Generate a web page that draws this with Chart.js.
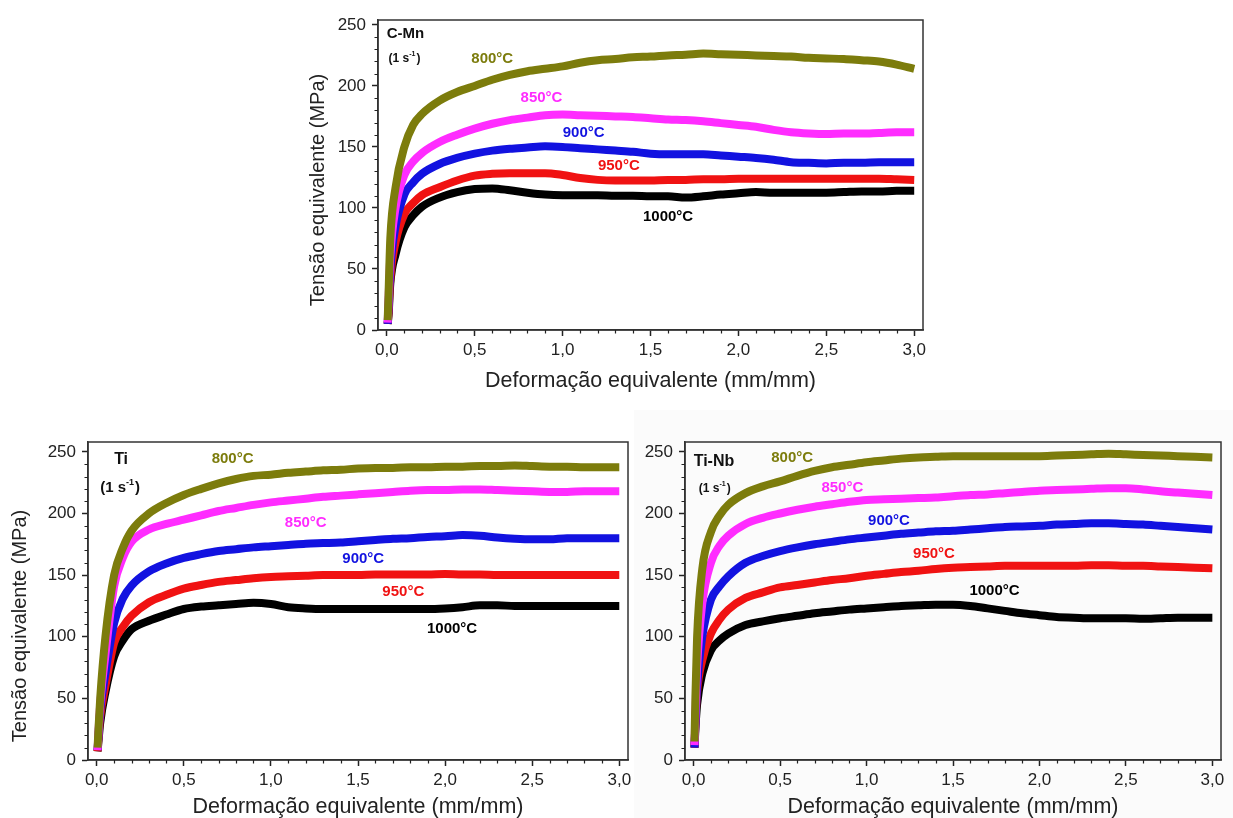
<!DOCTYPE html>
<html><head><meta charset="utf-8">
<script src="https://cdn.jsdelivr.net/npm/chart.js@4/dist/chart.umd.min.js"></script>
<style>
html,body{margin:0;padding:0;background:#fff;width:1233px;height:818px;overflow:hidden}
.box{position:absolute}
</style></head>
<body>
<div class="box" style="left:634px;top:410px;width:599px;height:408px;background:#fbfbfb"></div>
<div class="box" style="left:300px;top:0;width:640px;height:400px"><canvas id="c1"></canvas></div>
<div class="box" style="left:0;top:420px;width:640px;height:398px"><canvas id="c2"></canvas></div>
<div class="box" style="left:634px;top:420px;width:599px;height:398px"><canvas id="c3"></canvas></div>
<script>
// ---------- DATA ----------
const strain = [0.005,0.01,0.02,0.05,0.1,0.15,0.2,0.3,0.4,0.5,0.6,0.7,0.8,0.9,1.0,1.1,1.2,1.3,1.4,1.5,1.6,1.7,1.8,1.9,2.0,2.1,2.2,2.3,2.4,2.5,2.6,2.7,2.8,2.9,3.0];
const temperatures = ['800°C','850°C','900°C','950°C','1000°C'];
const xTickVals = [0,0.5,1.0,1.5,2.0,2.5,3.0];
const xTickLabels = ['0,0','0,5','1,0','1,5','2,0','2,5','3,0'];
const yTickVals = [0,50,100,150,200,250];
const yTickLabels = ['0','50','100','150','200','250'];
const xTitle = 'Deformação equivalente (mm/mm)';
const yTitle = 'Tensão equivalente (MPa)';

// C-Mn
const cmn800 = [8,30,75,117,150,168,177,188,195,200,205,209,212,214,216,219,221,222,223.5,224,225,225.5,226.5,226,225.5,225,224.5,224,223,222.5,222,221,220,217.5,214];
const cmn850 = [6,25,60,100,127,138,145,154,160,165,169,172,174,176,176.5,176,175.5,175,174.5,173.5,172.5,172,171,169.5,168,166.5,164,162,161,160.5,161,161,161.5,162,162];
const cmn900 = [5,20,50,85,111,121,128,136,141,144.5,147,148.5,149.5,150.5,150,149,148,147,146,144.5,144,144,144,143,142,141,139.5,137.5,137,136.5,137,137,137.5,137.5,137.5];
const cmn950 = [5,15,42,72,95,104,110.5,117,122.5,126.5,128,128.5,128.5,128.5,127,124.5,123,122.5,122.5,122.5,123,123,123.5,123.5,124,124,124,124,124,124,124,124,124,123.5,123];
const cmn1000 = [5,12,38,62,84,94,101,108.5,113,115.5,116,114.5,112.5,111,110.5,110.5,110.5,110,110,109.5,109.5,108.5,109.5,111,112,113,112.5,112.5,112.5,112.5,113,113.5,113.5,114,114];

// Ti
const ti800 = [10,25,50,100,150,172,186,200,208.5,215,220,224.5,228,230.5,231.5,233,234,235,235.5,236.5,237,237,237.5,237.5,238,238,238.5,238.5,239,238.5,238,238,237.5,237.5,237.5];
const ti850 = [8,22,45,85,141,164,177,187,191.5,195,198.5,202,204.5,207,209,210.5,212,213.5,214.5,215.5,216.5,217.5,218.5,219,219,219.5,219.5,219,218.5,218,217.5,217.5,218,218,218];
const ti900 = [8,20,40,70,111,131,141.5,153,159.5,164,167,169.5,171,172.5,173.5,174.5,175.5,176,176.5,177.5,178.5,179.5,180,181,181.5,182.5,182,180.5,179.5,179,179,180,180,180,180];
const ti950 = [7,18,35,60,95,108,117,128,134,139,142,144.5,146,147.5,148.5,149,149.5,150,150,150,150.5,150.5,150.5,150.5,151,150.5,150.5,150,150,150,150,150,150,150,150];
const ti1000 = [7,15,30,55,84,97,106,113,118,122.5,124.5,125.5,126.5,127.5,126.5,124,123,122.5,122.5,122.5,122.5,122.5,122.5,122.5,123,124,125.5,125.5,125,125,125,125,125,125,125];

// Ti-Nb
const tinb800 = [15,50,100,155,185,198.5,207,216.5,222,226,230.5,234.5,237.5,239.5,241.5,243,244.5,245.5,246,246.5,246.5,246.5,246.5,246.5,246.5,247,247.5,248,248.5,248,247.5,247,246.5,246,245.5];
const tinb850 = [12,35,75,127,160,174,182,191.5,196.5,200,203,205.5,207.5,209.5,211,211.5,212,212.5,213,214,215,215.5,216.5,217.5,218.5,219,219.5,220,220.5,220.5,219.5,218,217,216,215];
const tinb900 = [10,30,60,100,130,141,149,160,165.5,169.5,172.5,175,177,179,180.5,182,183.5,184.5,185.5,186,187,188,189,189.5,190,191,191.5,192,192,191.5,191,190,189,188,187];
const tinb950 = [10,30,55,81,102.5,114,122,131.5,136,140,142,144,146,147.5,149.5,151,152.5,153.5,155,156,156.5,157,157.5,157.5,157.5,157.5,157.5,158,158,157.5,157.5,157,156.5,156,155.5];
const tinb1000 = [10,25,45,70,89,97,102.5,109.5,112.5,115,117,119,120.5,122,123,124,125,125.5,126,126,125,123,121,119,117.5,116,115.5,115,115,115,114.5,115,115.5,115.5,115.5];

// ---------- STYLE ----------
const colors = ['#7c7c0c','#ff2cff','#1212e0','#f01212','#000000'];
const FONT = '"Liberation Sans", Arial, Helvetica, sans-serif';

function mkDatasets(series){
  return series.map((ys,i)=>({
    label: temperatures[i],
    data: strain.map((x,j)=>({x:x,y:ys[j]})),
    borderColor: colors[i],
    backgroundColor: colors[i],
    borderWidth: 8,
    pointRadius: 0,
    cubicInterpolationMode: 'monotone',
    fill: false
  }));
}

const framePlugin = {
  id:'frame',
  afterDraw(chart, args, opts){
    const {ctx, chartArea:a, scales:{x, y}} = chart;
    ctx.save();
    ctx.strokeStyle = '#333';
    ctx.lineWidth = 1.5;
    ctx.strokeRect(a.left, a.top, a.right-a.left, a.bottom-a.top);
    // minor ticks
    ctx.lineWidth = 1.2;
    ctx.strokeStyle = '#222';
    ctx.beginPath();
    for (let v = 10; v < y.max; v += 10){
      if (v % 50 === 0) continue;
      const py = Math.round(y.getPixelForValue(v)) + 0.5;
      ctx.moveTo(a.left, py); ctx.lineTo(a.left - 3.5, py);
    }
    for (let k = 1; k <= 30; k++){
      if (k % 5 === 0) continue;
      const px = Math.round(x.getPixelForValue(k/10)) + 0.5;
      ctx.moveTo(px, a.bottom); ctx.lineTo(px, a.bottom + 3.5);
    }
    ctx.stroke();
    // y title
    if (opts.show){
      ctx.translate(opts.x, (a.top + a.bottom)/2 + opts.dy);
      ctx.rotate(-Math.PI/2);
      ctx.fillStyle = '#222';
      ctx.font = '20px ' + FONT;
      ctx.textAlign = 'center';
      ctx.textBaseline = 'middle';
      ctx.fillText(yTitle, 0, 0);
    }
    ctx.restore();
  }
};

const labelPlugin = {
  id:'lbls',
  afterDatasetsDraw(chart, args, opts){
    const {ctx, scales:{x, y}} = chart;
    ctx.save();
    ctx.textBaseline = 'middle';
    ctx.textAlign = 'center';
    ctx.font = 'bold 15px ' + FONT;
    opts.temps.forEach((p,i)=>{
      ctx.fillStyle = colors[i];
      ctx.fillText(temperatures[i], x.getPixelForValue(p[0]), y.getPixelForValue(p[1]));
    });
    ctx.fillStyle = '#111';
    ctx.font = 'bold ' + opts.nameSize + 'px ' + FONT;
    ctx.textAlign = 'left';
    const nx = x.getPixelForValue(opts.name[0]), ny = y.getPixelForValue(opts.name[1]);
    ctx.fillText(opts.alloy, nx, ny);
    const rx = x.getPixelForValue(opts.rate[0]), ry = y.getPixelForValue(opts.rate[1]);
    const fs = opts.rateSize;
    ctx.font = 'bold ' + fs + 'px ' + FONT;
    let cx = rx;
    ctx.fillText('(1 s', cx, ry); cx += ctx.measureText('(1 s').width;
    ctx.font = 'bold ' + Math.round(fs*0.6) + 'px ' + FONT;
    ctx.fillText('-1', cx, ry - fs*0.4); cx += ctx.measureText('-1').width + 1;
    ctx.font = 'bold ' + fs + 'px ' + FONT;
    ctx.fillText(')', cx, ry);
    ctx.restore();
  }
};

function mkChart(id, series, cfg){
  return new Chart(document.getElementById(id), {
    type:'line',
    data:{datasets: mkDatasets(series)},
    plugins:[framePlugin, labelPlugin],
    options:{
      responsive:true, maintainAspectRatio:false, animation:false,
      layout:{padding:{left:0, right:cfg.padR, top:cfg.padT, bottom:0}},
      plugins:{legend:{display:false}, tooltip:{enabled:false},
        frame:{show:cfg.ytitle, x:cfg.ytx, dy:cfg.ytdy},
        lbls:{temps:cfg.temps, alloy:cfg.alloy, name:cfg.name, rate:cfg.rate, nameSize:cfg.nameSize, rateSize:cfg.rateSize}},
      scales:{
        x:{type:'linear', min:-0.05, max:3.05,
          afterBuildTicks(s){ s.ticks = xTickVals.map(v=>({value:v})); },
          afterFit(s){ s.height = cfg.xh; },
          ticks:{callback:(v,i)=>xTickLabels[i], color:'#222', font:{family:FONT, size:17}, padding:4, maxRotation:0, autoSkip:false},
          grid:{display:true, drawOnChartArea:false, drawTicks:true, tickLength:6, tickColor:'#222', tickWidth:1.5},
          border:{display:true, color:'#333', width:1.5},
          title:{display:true, text:xTitle, color:'#222', font:{family:FONT, size:21.5, lineHeight:1}, padding:{top:0,bottom:cfg.xtPad}}
        },
        y:{type:'linear', min:0, max:cfg.ymax,
          afterBuildTicks(s){ s.ticks = yTickVals.map(v=>({value:v})); },
          afterFit(s){ s.width = cfg.yw; },
          ticks:{callback:(v,i)=>yTickLabels[i], color:'#222', font:{family:FONT, size:17}, padding:6, autoSkip:false},
          grid:{display:true, drawOnChartArea:false, drawTicks:true, tickLength:6, tickColor:'#222', tickWidth:1.5},
          border:{display:true, color:'#333', width:1.5},
          title:{display:false}
        }
      }
    }
  });
}

mkChart('c1', [cmn800,cmn850,cmn900,cmn950,cmn1000], {
  padR:17, padT:20, xh:70, yw:78, ymax:254, xtPad:8, ytitle:true, ytx:18, ytdy:15,
  temps:[[0.6,222],[0.88,190],[1.12,161.5],[1.32,134.5],[1.6,93]],
  alloy:'C-Mn', name:[0.0,243], rate:[0.01,222], nameSize:15, rateSize:12
});
mkChart('c2', [ti800,ti850,ti900,ti950,ti1000], {
  padR:12, padT:22, xh:58, yw:88, ymax:258, xtPad:0, ytitle:true, ytx:20, ytdy:25,
  temps:[[0.78,244],[1.2,192],[1.53,163],[1.76,136.7],[2.04,106.6]],
  alloy:'Ti', name:[0.1,244], rate:[0.02,220.5], nameSize:16, rateSize:15
});
mkChart('c3', [tinb800,tinb850,tinb900,tinb950,tinb1000], {
  padR:12, padT:22, xh:58, yw:51, ymax:258, xtPad:0, ytitle:false, ytx:0, ytdy:0,
  temps:[[0.57,245],[0.86,221],[1.13,194],[1.39,167.6],[1.74,137]],
  alloy:'Ti-Nb', name:[0.0,242], rate:[0.03,220], nameSize:16, rateSize:12
});
</script>
</body></html>
